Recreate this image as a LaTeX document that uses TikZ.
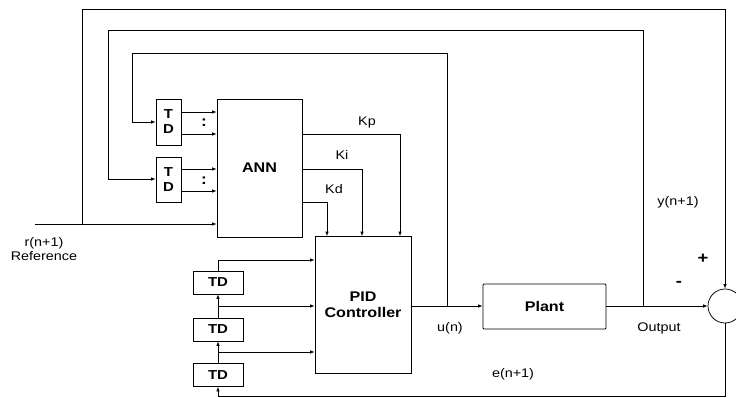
\documentclass[tikz,border=0pt]{standalone}
\usepackage{fontspec}
\setmainfont[FakeStretch=1.15]{Liberation Sans}
\usepackage{tikz}
\usetikzlibrary{arrows.meta, positioning, calc}

\begin{document}
\begin{tikzpicture}[x=1pt, y=-1pt, line width=0.75pt,
  box/.style={draw, inner sep=0pt, align=center, font=\bfseries\fontsize{14}{16}\selectfont},
  tdbox/.style={draw, inner sep=0pt, align=center, font=\bfseries\fontsize{13}{13}\selectfont},
  lbl/.style={font=\fontsize{12.5}{14}\selectfont, align=center},
  arr/.style={-{Latex[length=4.5pt, width=3.5pt]}}
]
\useasboundingbox (0,0) rectangle (736,398);

% blocks
\node[box, minimum width=85pt, minimum height=138pt] (ann) at (259.5,168) {ANN};
\node[box, minimum width=96pt, minimum height=137pt] (pid) at (363,305) {PID\\Controller};
\node[box, rounded corners=1pt, minimum width=123pt, minimum height=45pt] (plant) at (544.5,306.5) {Plant};
\node[draw, circle, minimum size=34pt, inner sep=0pt] (sum) at (725,306) {};

% delay lines feeding the ANN
\node[tdbox, minimum width=25pt, minimum height=46pt] (td1) at (168.5,122) {T\\[2pt]D};
\node[tdbox, minimum width=25pt, minimum height=45pt] (td2) at (168.5,179.5) {T\\[2pt]D};
\node[font=\bfseries\fontsize{15}{15}\selectfont] (dots1) at (204,123) {:};
\node[font=\bfseries\fontsize{15}{15}\selectfont] (dots2) at (204,181) {:};

% delay chain feeding the PID
\node[tdbox, minimum width=50pt, minimum height=23pt] (tda) at (218,282.5) {TD};
\node[tdbox, minimum width=50pt, minimum height=23pt] (tdb) at (218,329.5) {TD};
\node[tdbox, minimum width=50pt, minimum height=23pt] (tdc) at (218,375) {TD};

% junction points
\coordinate (rin) at (35,224);
\coordinate (rj) at (82,224);
\coordinate (uj) at (447,306);
\coordinate (yj) at (643,306);
\coordinate (eb) at (218,396);

% reference input and outer loop
\draw[arr] (rin) -- (ann.west |- rin);
\draw[arr] (rj) -- (82,9) -- (sum.north |- 0,9) -- (sum.north);
\node[lbl] (ref) at (44,249) {r(n+1)\\Reference};

% feedback of y and u into the delay lines
\draw[arr] (yj) -- (643,30) -- (108,30) -- (108,179) -- (td2.west |- 0,179);
\draw[arr] (uj) -- (447,53) -- (132,53) -- (132,122) -- (td1.west |- 0,122);
\foreach \yy in {112,134} \draw[arr] (td1.east |- 0,\yy) -- (ann.west |- 0,\yy);
\foreach \yy in {169,191} \draw[arr] (td2.east |- 0,\yy) -- (ann.west |- 0,\yy);

% gains
\draw[arr] (ann.east |- 0,134) -- (400,134) -- (400,0 |- pid.north);
\draw[arr] (ann.east |- 0,169) -- (362,169) -- (362,0 |- pid.north);
\draw[arr] (ann.east |- 0,202) -- (327,202) -- (327,0 |- pid.north);
\node[lbl] (kp) at (367,122) {Kp};
\node[lbl] (ki) at (342,155) {Ki};
\node[lbl] (kd) at (334,189) {Kd};

% forward path
\draw[arr] (pid.east |- uj) -- (plant.west |- uj);
\draw[arr] (plant.east |- yj) -- (sum.west);
\node[lbl] (un) at (450,328) {u(n)};
\node[lbl] (out) at (659,328) {Output};
\node[lbl] (yn) at (678,202) {y(n+1)};
\node[font=\bfseries\fontsize{16}{16}\selectfont] (plus) at (703,259) {+};
\node[font=\bfseries\fontsize{16}{16}\selectfont] (minus) at (679,284) {-};

% error through the delay chain
\draw[arr] (sum.south) -- (sum.south |- eb) -- (eb) -- (tdc.south);
\draw[arr] (tdc.north) -- (tdb.south);
\draw[arr] (tdb.north) -- (tda.south);
\draw[arr] (218,352) -- (pid.west |- 0,352);
\draw[arr] (218,306) -- (pid.west |- 0,306);
\draw[arr] (tda.north) -- (218,260) -- (pid.west |- 0,260);
\node[lbl] (en) at (513,374) {e(n+1)};
\end{tikzpicture}
\end{document}
